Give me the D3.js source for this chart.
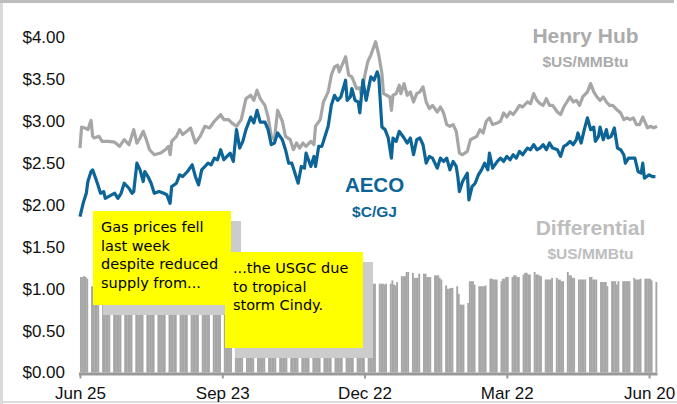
<!DOCTYPE html>
<html>
<head>
<meta charset="utf-8">
<script src="https://cdn.jsdelivr.net/npm/d3@7"></script>
<style>
  body { margin: 0; background: #fff; }
  svg { display: block; font-family: Arial, "Liberation Sans", sans-serif; }
  .note { font-family: "DejaVu Sans", sans-serif; font-size: 14.5px; fill: #000; }
</style>
</head>
<body>
<svg width="677" height="404"></svg>
<script>
// days counted from Jun 25 2016
const henryHub = [
  [0,2.68],[1,2.93],[3,2.92],[5,2.90],[7,3.01],[8,2.82],[9,2.80],[12,2.82],[14,2.76],[18,2.76],
  [22,2.75],[25,2.70],[28,2.78],[31,2.72],[34,2.90],[36,2.74],[38,2.80],[40,2.88],[42,2.78],[44,2.66],
  [47,2.60],[51,2.62],[54,2.66],[56,2.70],[57,2.60],[58,2.76],[61,2.82],[63,2.90],[65,2.84],[70,2.92],
  [73,2.74],[76,2.82],[79,2.94],[82,2.92],[85,3.00],[89,3.08],[91,3.02],[94,3.02],[96,2.98],[99,2.94],
  [102,3.02],[105,3.27],[108,3.31],[110,3.25],[112,3.37],[114,3.27],[117,3.19],[119,3.05],[121,2.82],[123,2.78],
  [125,3.13],[128,3.00],[130,2.82],[133,2.78],[135,2.66],[137,2.74],[139,2.68],[141,2.74],[143,2.70],[146,2.76],
  [148,2.72],[149,2.94],[152,3.02],[154,3.23],[157,3.35],[159,3.55],[161,3.65],[163,3.67],[164,3.59],[168,3.77],
  [170,3.55],[172,3.53],[175,3.39],[177,3.40],[178,3.31],[180,3.53],[182,3.71],[184,3.79],[187,3.95],[189,3.79],
  [191,3.57],[192,3.33],[194,3.31],[196,3.29],[197,3.13],[198,3.31],[200,3.33],[202,3.43],[203,3.33],[205,3.45],
  [207,3.31],[209,3.35],[211,3.23],[213,3.33],[215,3.35],[217,3.41],[219,3.23],[221,3.15],[223,3.19],[226,3.11],
  [228,3.17],[230,3.10],[232,2.96],[234,2.94],[236,2.96],[238,2.88],[240,2.62],[242,2.60],[245,2.64],[247,2.78],
  [249,2.80],[251,2.82],[253,2.90],[255,2.86],[257,3.00],[259,3.04],[261,2.96],[264,2.98],[266,3.00],[268,3.10],
  [270,3.05],[272,3.11],[274,3.08],[276,3.13],[278,3.19],[280,3.17],[283,3.23],[285,3.21],[287,3.33],[289,3.25],
  [291,3.21],[293,3.19],[295,3.27],[297,3.19],[299,3.19],[302,3.11],[304,3.08],[306,3.17],[308,3.23],[310,3.29],
  [312,3.23],[314,3.25],[316,3.19],[318,3.29],[321,3.35],[323,3.45],[325,3.35],[327,3.29],[329,3.25],[331,3.29],
  [333,3.23],[335,3.19],[337,3.19],[340,3.13],[342,3.10],[344,3.02],[346,3.04],[348,3.02],[350,3.04],[352,2.96],
  [354,2.96],[356,3.05],[359,2.92],[361,2.94],[363,2.92],[365,2.94]
];

const aeco = [
  [0,1.86],[2,2.02],[4,2.14],[5,2.28],[7,2.40],[8,2.42],[11,2.26],[13,2.14],[15,2.16],[16,2.08],
  [18,2.10],[20,2.12],[22,2.14],[24,2.08],[26,2.14],[28,2.26],[31,2.20],[33,2.14],[34,2.16],[36,2.50],
  [38,2.42],[40,2.28],[41,2.40],[43,2.34],[45,2.26],[47,2.14],[50,2.16],[53,2.14],[55,2.12],[57,2.02],
  [58,2.22],[61,2.26],[63,2.36],[65,2.34],[68,2.40],[71,2.48],[73,2.34],[75,2.24],[77,2.42],[79,2.46],
  [81,2.50],[83,2.48],[85,2.56],[87,2.54],[89,2.66],[91,2.54],[93,2.58],[95,2.62],[97,2.52],[99,2.90],
  [101,2.68],[103,2.76],[105,2.90],[108,3.05],[110,2.98],[112,3.13],[114,2.99],[117,2.99],[119,2.90],[121,2.72],
  [123,2.74],[125,2.86],[128,2.78],[130,2.66],[132,2.50],[134,2.50],[136,2.38],[138,2.26],[140,2.46],[142,2.44],
  [143,2.62],[146,2.46],[148,2.58],[149,2.46],[151,2.70],[153,2.70],[155,2.82],[157,2.94],[159,3.19],[161,3.31],
  [163,3.25],[165,3.29],[168,3.49],[169,3.25],[171,3.29],[172,3.39],[174,3.25],[176,3.23],[177,3.10],[179,3.49],
  [181,3.25],[184,3.53],[186,3.49],[188,3.59],[189,3.53],[191,2.93],[193,2.90],[195,2.80],[197,2.56],[198,2.80],
  [200,2.76],[202,2.88],[205,2.80],[207,2.74],[209,2.80],[211,2.60],[213,2.78],[215,2.80],[217,2.72],[219,2.50],
  [221,2.58],[223,2.56],[226,2.44],[228,2.56],[230,2.52],[232,2.56],[234,2.42],[236,2.52],[238,2.46],[239,2.34],
  [240,2.16],[242,2.28],[245,2.38],[246,2.06],[248,2.22],[250,2.26],[252,2.36],[254,2.42],[256,2.50],[258,2.42],
  [259,2.62],[261,2.44],[264,2.52],[266,2.56],[268,2.52],[270,2.58],[272,2.54],[274,2.60],[276,2.56],[278,2.64],
  [280,2.60],[283,2.68],[285,2.66],[287,2.72],[289,2.66],[291,2.68],[293,2.72],[295,2.66],[297,2.74],[299,2.68],
  [302,2.66],[304,2.58],[306,2.70],[308,2.72],[310,2.76],[312,2.72],[314,2.78],[315,2.86],[317,2.74],[319,2.90],
  [321,3.04],[323,2.90],[325,2.93],[326,2.76],[328,2.82],[329,2.93],[331,2.78],[333,2.90],[334,2.80],[336,2.82],
  [338,2.92],[340,2.68],[342,2.66],[344,2.60],[345,2.50],[347,2.56],[349,2.56],[351,2.56],[353,2.40],[355,2.38],
  [356,2.50],[357,2.32],[360,2.36],[362,2.34],[364,2.34]
];

// differential, one row per week, 5 trading days each
const differential = [
  [1.14,1.14,1.15,1.14,1.12],[1.03,1.02,1.03,1.05,1.06],[1.08,1.10,1.07,1.09,1.10],[1.11,1.09,1.12,1.10,1.08],
  [1.06,1.08,1.10,1.09,1.07],[1.05,1.07,1.09,1.08,1.10],[1.12,1.10,1.09,1.11,1.13],[1.10,1.08,1.06,1.07,1.09],
  [1.04,1.06,1.08,1.07,1.05],[1.07,1.09,1.10,1.08,1.06],[1.09,1.11,1.12,1.10,1.08],[1.10,1.12,1.14,1.11,1.09],
  [1.08,1.06,1.09,1.12,1.10],[1.11,1.13,1.10,1.08,1.09],[1.07,1.05,1.08,1.10,1.12],[1.09,1.11,1.08,1.06,1.07],
  [1.05,1.08,1.10,1.09,1.11],[1.12,1.10,1.08,1.09,1.07],[1.06,1.09,1.11,1.13,1.10],[1.08,1.07,1.09,1.12,1.10],
  [1.09,1.11,1.13,1.10,1.08],[1.07,1.10,1.12,1.09,1.11],[1.10,1.08,1.06,1.09,1.12],[1.13,1.11,1.09,1.10,1.08],
  [1.06,1.08,1.10,1.07,1.05],[1.04,1.06,1.08,1.06,1.07],[1.06,1.05,1.07,1.06,1.06],[1.06,1.06,1.06,1.05,1.06],
  [1.06,1.10,1.05,1.04,1.08],[1.15,1.15,1.15,1.20,1.20],[1.19,1.13,1.13,1.13,1.18],[1.18,1.18,1.14,1.14,1.14],
  [1.16,1.16,1.16,1.13,1.11],[1.04,1.00,1.00,1.01,1.01],[1.03,0.94,0.81,0.81,0.81],[0.83,1.09,1.09,1.09,1.05],
  [1.03,1.03,1.03,1.03,1.04],[1.12,1.12,1.11,1.11,1.11],[1.09,1.12,1.12,1.14,1.14],[1.14,1.16,1.16,1.14,1.14],
  [1.17,1.19,1.19,1.17,1.17],[1.20,1.17,1.17,1.16,1.15],[1.11,1.11,1.11,1.11,1.13],[1.13,1.11,1.11,1.09,1.09],
  [1.20,1.16,1.16,1.13,1.13],[1.11,1.11,1.11,1.11,1.11],[1.14,1.14,1.11,1.11,1.11],[1.08,1.08,1.08,1.08,1.03],
  [1.09,1.09,1.09,1.05,1.09],[1.09,1.09,1.09,1.09,1.09],[1.13,1.11,1.11,1.11,1.12],[1.12,1.12,1.12,1.12,1.10],
  [1.08]
];

const yTicks = [0, 0.5, 1, 1.5, 2, 2.5, 3, 3.5, 4];
const xTicks = ["2016-06-25", "2016-09-23", "2016-12-22", "2017-03-22", "2017-06-20"];

const notes = [
  {lines: ["Gas prices fell", "last week", "despite reduced", "supply from..."], box: [93, 211, 138, 94]},
  {lines: ["...the USGC due", "to tropical", "storm Cindy."], box: [225, 252, 138, 96]}
];

const svg = d3.select("svg");
const parse = d3.utcParse("%Y-%m-%d");
const start = parse("2016-06-25");
const day = n => d3.utcDay.offset(start, n);

const x = d3.scaleUtc().domain([parse("2016-06-24"), parse("2017-06-25")]).range([78.4, 657]);
const y = d3.scaleLinear().domain([0, 4]).range([372.5, 37.5]);

// frame
svg.append("rect").attr("x", 0).attr("y", 0).attr("width", 3).attr("height", 404).attr("fill", "#dadada");
svg.append("rect").attr("x", 0).attr("y", 0).attr("width", 674).attr("height", 3).attr("fill", "#bdbdbd");
svg.append("rect").attr("x", 0).attr("y", 401).attr("width", 677).attr("height", 2).attr("fill", "#dcdcdc");

// differential bars
const bars = [];
differential.forEach((wk, w) => wk.forEach((v, i) => bars.push({d: w * 7 + i, v})));
svg.append("g").selectAll("rect")
  .data(bars)
  .enter().append("rect")
    .attr("x", b => x(day(b.d)))
    .attr("y", b => y(b.v))
    .attr("width", b => x(day(b.d + 1)) - x(day(b.d)) + 0.3)
    .attr("height", b => y(0) - y(b.v))
    .attr("fill", "#a6a6a6");

const line = d3.line().x(p => x(day(p[0]))).y(p => y(p[1]));

svg.append("path").datum(henryHub)
  .attr("d", line).attr("fill", "none")
  .attr("stroke", "#a6a6a6").attr("stroke-width", 3.2).attr("stroke-linejoin", "round");

svg.append("path").datum(aeco)
  .attr("d", line).attr("fill", "none")
  .attr("stroke", "#0c6497").attr("stroke-width", 3.2).attr("stroke-linejoin", "round");

// axes
const yAxis = svg.append("g")
  .attr("transform", "translate(68,0)")
  .call(d3.axisLeft(y).tickValues(yTicks).tickFormat(d => "$" + d.toFixed(2)).tickSize(0).tickPadding(3));
yAxis.select(".domain").remove();
yAxis.selectAll("text").style("font-size", "17px").style("font-family", "Arial, 'Liberation Sans', sans-serif").attr("fill", "#111");

const xAxis = svg.append("g")
  .attr("transform", `translate(0,${y(0) + 1})`)
  .call(d3.axisBottom(x).tickValues(xTicks.map(parse)).tickFormat(d3.utcFormat("%b %d")).tickSize(5).tickSizeOuter(0).tickPadding(8));
xAxis.select(".domain").attr("stroke", "#999").attr("stroke-width", 3);
xAxis.selectAll("line").attr("stroke", "#999").attr("stroke-width", 2);
xAxis.selectAll("text").style("font-size", "17px").style("font-family", "Arial, 'Liberation Sans', sans-serif").attr("fill", "#111");

// callouts
notes.forEach(n => {
  const [bx, by, bw, bh] = n.box;
  svg.append("rect").attr("x", bx + 10).attr("y", by + 10).attr("width", bw).attr("height", bh).attr("fill", "#cccccc");
  svg.append("rect").attr("x", bx).attr("y", by).attr("width", bw).attr("height", bh).attr("fill", "#ffff00");
  svg.append("text").attr("class", "note")
    .selectAll("tspan").data(n.lines).enter().append("tspan")
      .attr("x", bx + 8).attr("y", (d, i) => by + 21 + i * 18.7)
      .text(d => d);
});

// series labels
const labels = [
  {t: "Henry Hub", x: 585.5, y: 43, size: 21, c: "#ababab"},
  {t: "$US/MMBtu", x: 585.5, y: 66.5, size: 15.5, c: "#ababab"},
  {t: "AECO", x: 374.5, y: 192, size: 20.5, c: "#0c6497"},
  {t: "$C/GJ", x: 374.5, y: 217, size: 15.5, c: "#0c6497"},
  {t: "Differential", x: 590.5, y: 235, size: 21, c: "#bdbdbd"},
  {t: "$US/MMBtu", x: 590.5, y: 259, size: 15.5, c: "#bdbdbd"}
];
svg.append("g").selectAll("text")
  .data(labels)
  .enter().append("text")
    .attr("x", l => l.x).attr("y", l => l.y)
    .attr("text-anchor", "middle")
    .style("font-weight", "bold")
    .style("font-size", l => l.size + "px")
    .attr("fill", l => l.c)
    .text(l => l.t);
</script>
</body>
</html>
